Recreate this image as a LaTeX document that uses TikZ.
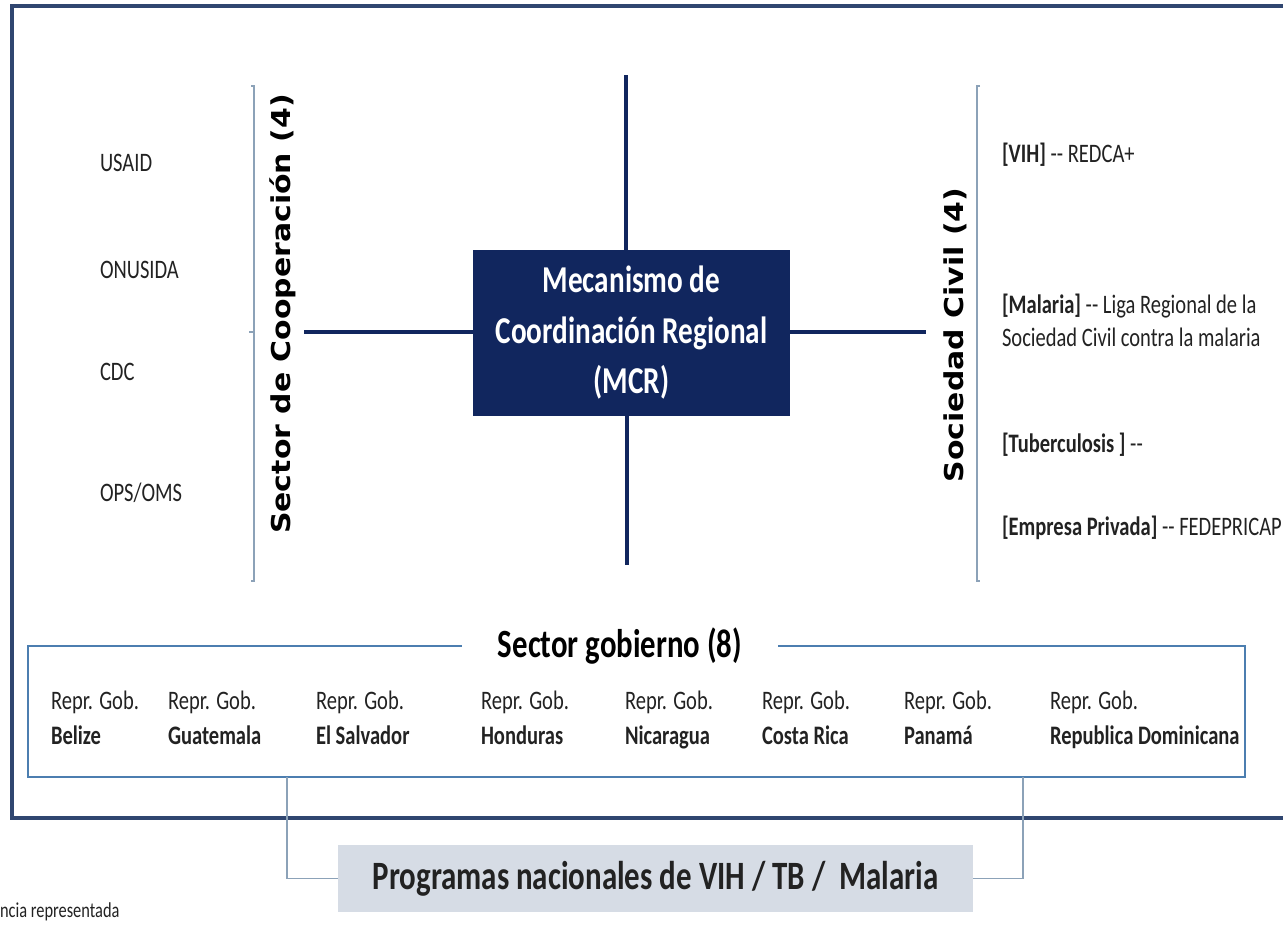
\documentclass[tikz,border=0pt]{standalone}
\usepackage{fontspec}
\setmainfont{Carlito}
\newfontfamily\sidefont{DejaVu Sans}
\usepackage{graphicx}
\usepackage{tikz}
\usetikzlibrary{positioning}

\definecolor{mcrnavy}{RGB}{17,38,94}
\definecolor{framebl}{RGB}{48,70,112}
\definecolor{govbl}{RGB}{76,126,176}
\definecolor{linkgray}{RGB}{140,162,184}
\definecolor{progfill}{RGB}{214,220,229}
\definecolor{inkgray}{RGB}{34,34,34}

% the text of the chart is set a bit taller than wide
\newcommand{\tall}[1]{\scalebox{1}[1.3]{#1}}
\newcommand{\wide}[1]{\scalebox{1.15}[1]{#1}}

\begin{document}
\begin{tikzpicture}[
  x=0.75pt, y=-0.75pt,
  every node/.style={inner sep=0pt, outer sep=0pt, text=inkgray},
  member/.style={anchor=west, font=\fontsize{15.4}{19}\selectfont},
  sidelabel/.style={rotate=90, text=black, font=\sidefont\bfseries\fontsize{19.5}{22}\selectfont},
  mcrbox/.style={fill=mcrnavy, text=white, minimum width=237.75pt, minimum height=124.5pt,
    font=\bfseries\fontsize{21.9}{28.9}\selectfont},
  repr/.style={anchor=west, font=\fontsize{15.4}{20.2}\selectfont},
  govtitle/.style={inner xsep=27pt, text=black, font=\bfseries\fontsize{23.1}{26}\selectfont},
  progbox/.style={fill=progfill, minimum width=476.25pt, minimum height=50.25pt,
    font=\bfseries\fontsize{23.2}{26}\selectfont},
  cross/.style={draw=mcrnavy, line width=3pt},
  bracket/.style={draw=linkgray, line width=0.8pt},
  govline/.style={draw=govbl, line width=1.4pt},
  link/.style={draw=linkgray, line width=0.8pt},
]
\useasboundingbox (0,0) rectangle (1283,926);

% outer frame
\draw[framebl, line width=2.3pt] (12,6) rectangle (1300,818);

% centre
\node[mcrbox] (mcr) at (631.5,333) {\tall{\begin{tabular}{@{}c@{}}Mecanismo de\\Coordinación Regional\\(MCR)\end{tabular}}};
\coordinate (ctop) at (626,75);
\coordinate (cbot) at (627,565);
\coordinate (cleft) at (304,332);
\coordinate (cright) at (926,332);
\draw[cross] (ctop) -- (ctop |- mcr.north);
\draw[cross] (cbot |- mcr.south) -- (cbot);
\draw[cross] (cleft) -- (cleft -| mcr.west);
\draw[cross] (cright -| mcr.east) -- (cright);

% cooperation side
\node[sidelabel] (coop) at (283,314) {\wide{Sector de Cooperación (4)}};
\draw[bracket] (251,86) -- (254,86) -- (254,581) -- (251,581);
\draw[bracket] (249,332) -- (254,332);
\node[member] (usaid) at (100,163) {\tall{USAID}};
\node[member] (onusida) at (100,270) {\tall{ONUSIDA}};
\node[member] (cdc) at (100,372) {\tall{CDC}};
\node[member] (ops) at (100,493) {\tall{OPS/OMS}};

% civil society side
\node[sidelabel] (civil) at (955,335) {\wide{Sociedad Civil (4)}};
\draw[bracket] (980,86) -- (977,86) -- (977,581) -- (980,581);
\node[member] (vih) at (1002,155) {\tall{\textbf{[VIH]} -{}- REDCA+}};
\node[member] (malaria) at (1002,323) {\tall{\begin{tabular}{@{}l@{}}\textbf{[Malaria]} -{}- Liga Regional de la\\Sociedad Civil contra la malaria\end{tabular}}};
\node[member] (tb) at (1002,445) {\tall{\textbf{[Tuberculosis ]} -{}-}};
\node[member] (empresa) at (1002,528) {\tall{\textbf{[Empresa Privada]} -{}- FEDEPRICAP}};

% government sector
\node[govtitle] (gov) at (620,646) {\tall{Sector gobierno (8)}};
\draw[govline] (gov.west) -| (28,777) -| (1245,646) -- (gov.east);
\foreach \x/\c [count=\i] in {51/Belize, 168/Guatemala, 316/El Salvador, 481/Honduras,
    625/Nicaragua, 762/Costa Rica, 904/Panamá, 1050/Republica Dominicana}
  \node[repr] (rep\i) at (\x,720) {\tall{\begin{tabular}{@{}l@{}}Repr. Gob.\\\textbf{\c}\end{tabular}}};

% national programmes
\node[progbox] (prog) at (655.5,878.5) {\tall{Programas nacionales de VIH / TB /~ Malaria}};
\coordinate (govl) at (287,777);
\coordinate (govr) at (1023,777);
\draw[link] (govl) |- (prog.west);
\draw[link] (govr) |- (prog.east);

\node[anchor=west, font=\fontsize{12.3}{14}\selectfont] (src) at (0,912) {\tall{ncia representada}};
\end{tikzpicture}
\end{document}
